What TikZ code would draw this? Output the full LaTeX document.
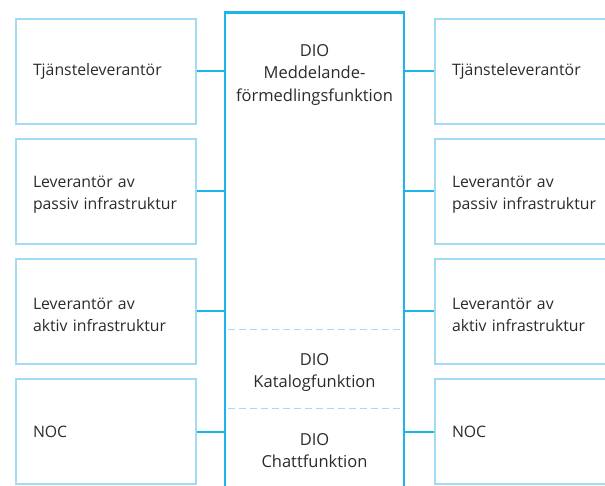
\documentclass[tikz,border=0pt]{standalone}
\usepackage{fontspec}
\setmainfont{Open Sans}
\definecolor{boxblue}{HTML}{A3DAF5}
\definecolor{mainblue}{HTML}{1BB5EA}
\definecolor{txt}{HTML}{2B2B2B}
\tikzset{
  sidebox/.style={draw=boxblue, line width=2pt, rectangle, minimum height=105pt,
    inner xsep=17pt, inner ysep=0pt, align=left, text=txt,
    font=\fontsize{15.8}{22}\selectfont},
  twoline/.style={text height=18pt},
  leftbox/.style={sidebox, text width=145.5pt, minimum width=179.5pt},
  rightbox/.style={sidebox, text width=151pt, minimum width=185pt},
  link/.style={draw=mainblue, line width=2pt},
  centertext/.style={align=center, text=txt, font=\fontsize{16.5}{22.5}\selectfont, inner sep=0pt},
  sep/.style={draw=boxblue, line width=1pt, dash pattern=on 7pt off 4pt}
}
\begin{document}
\begin{tikzpicture}[x=1pt,y=-1pt]
\useasboundingbox (0,0) rectangle (605,486);
\clip (0,0) rectangle (605,486);
\fill[white] (0,0) rectangle (605,486);
% centre box (open below)
\node[draw=none, minimum width=179pt, minimum height=520pt, inner sep=0pt, anchor=north] (center) at (314.5,12.5) {};
\draw[mainblue, line width=2.2pt] (225,500) -- (225,12.5) -- (404,12.5) -- (404,500);
% left boxes
\node[leftbox] (l1) at (105.75,71.5) {Tjänsteleverantör};
\node[leftbox, twoline] (l2) at (105.75,191.5) {Leverantör av\\passiv infrastruktur};
\node[leftbox, twoline] (l3) at (105.75,311.5) {Leverantör av\\aktiv infrastruktur};
\node[leftbox] (l4) at (105.75,431.5) {NOC};
% right boxes
\node[rightbox] (r1) at (527.5,71.5) {Tjänsteleverantör};
\node[rightbox, twoline] (r2) at (527.5,191.5) {Leverantör av\\passiv infrastruktur};
\node[rightbox, twoline] (r3) at (527.5,311.5) {Leverantör av\\aktiv infrastruktur};
\node[rightbox] (r4) at (527.5,431.5) {NOC};
% connectors
\foreach \i in {1,2,3,4}{
  \draw[link] (l\i.east) -- (l\i.east -| center.west);
  \draw[link] (r\i.west) -- (r\i.west -| center.east);
}
% separators
\coordinate (s1a) at (228,329.5); \coordinate (s1b) at (401,329.5);
\coordinate (s2a) at (228,408.5); \coordinate (s2b) at (401,408.5);
\draw[sep] (s1a) -- (s1b);
\draw[sep] (s2a) -- (s2b);
% centre texts
\node[centertext] (t1) at (314.5,75) {DIO\\Meddelande-\\förmedlingsfunktion};
\node[centertext] (t2) at (314.5,372.5) {DIO\\Katalogfunktion};
\node[centertext] (t3) at (314.5,450.5) {DIO\\Chattfunktion};
\end{tikzpicture}
\end{document}
